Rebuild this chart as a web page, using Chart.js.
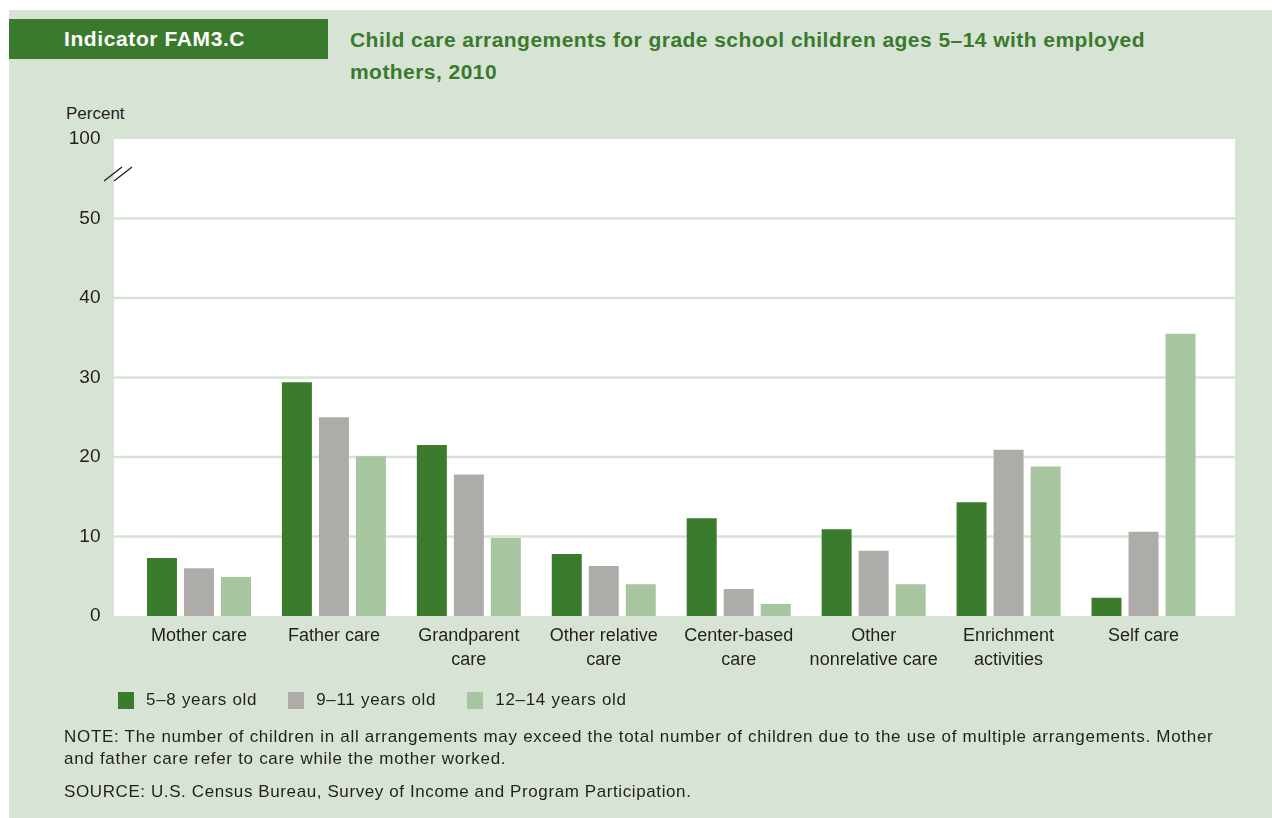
<!DOCTYPE html>
<html>
<head>
<meta charset="utf-8">
<script src="https://cdn.jsdelivr.net/npm/chart.js"></script>
<style>
  html, body { margin: 0; padding: 0; background: #fff; }
  body { width: 1272px; height: 818px; position: relative; overflow: hidden;
         font-family: "Liberation Sans", Arial, sans-serif; color: #231f20; }
  #bg { position: absolute; left: 9px; top: 10px; width: 1263px; height: 808px; background: #d7e4d5; }
  #badge { position: absolute; left: 9px; top: 19px; width: 319px; height: 40px; background: #3a7a2d;
           color: #fff; font-weight: bold; font-size: 21px; letter-spacing: 0.6px; line-height: 40px;
           box-sizing: border-box; padding-left: 55px; }
  #title { position: absolute; left: 350px; top: 24px; color: #3a7a2d; font-weight: bold; font-size: 21px;
           letter-spacing: 0.45px; line-height: 32px; }
  #unit { position: absolute; left: 66px; top: 104px; font-size: 17px; }
  #chartWrap { position: absolute; left: 0; top: 0; width: 1272px; height: 818px; }
  #legend { position: absolute; left: 118px; top: 690px; display: flex; font-size: 17px; letter-spacing: 0.7px; line-height: 20px; }
  #legend .item { display: flex; align-items: center; margin-right: 31px; }
  #legend .sw { width: 16px; height: 17px; margin-right: 12px; }
  #note { position: absolute; left: 64px; top: 726px; font-size: 17px; letter-spacing: 0.7px; line-height: 22px; }
  #source { position: absolute; left: 64px; top: 781px; font-size: 17px; letter-spacing: 0.6px; line-height: 22px; }
</style>
</head>
<body>
<div id="bg"></div>
<div id="badge">Indicator FAM3.C</div>
<div id="title">Child care arrangements for grade school children ages 5–14 with employed<br>mothers, 2010</div>
<div id="unit">Percent</div>
<div id="chartWrap"><canvas id="myChart" width="1272" height="818"></canvas></div>
<div id="legend"></div>
<div id="note">NOTE: The number of children in all arrangements may exceed the total number of children due to the use of multiple arrangements. Mother<br>and father care refer to care while the mother worked.</div>
<div id="source">SOURCE: U.S. Census Bureau, Survey of Income and Program Participation.</div>
<script>
var categories = [
  ["Mother care"], ["Father care"], ["Grandparent", "care"], ["Other relative", "care"],
  ["Center-based", "care"], ["Other", "nonrelative care"], ["Enrichment", "activities"], ["Self care"]
];
var seriesNames = ["5–8 years old", "9–11 years old", "12–14 years old"];
var age5to8 = [7.3, 29.4, 21.5, 7.8, 12.3, 10.9, 14.3, 2.3];
var age9to11 = [6.0, 25.0, 17.8, 6.3, 3.4, 8.2, 20.9, 10.6];
var age12to14 = [4.9, 20.1, 9.8, 4.0, 1.5, 4.0, 18.8, 35.5];
var yTicks = [0, 10, 20, 30, 40, 50, 60];
var yTickLabels = ["0", "10", "20", "30", "40", "50", "100"];

var colors = ["#3a7b2e", "#adaca8", "#a7c59f"];
var bgGreen = "#d7e4d5";
var textColor = "#231f20";
var fontFamily = '"Liberation Sans", Arial, sans-serif';

// white plot panel reaches a bit past the category band on both sides
var panelLeftExtra = 17.5, panelRightExtra = 24;

var plotPanel = {
  id: "plotPanel",
  beforeDatasetsDraw: function(chart) {
    var ctx = chart.ctx, a = chart.chartArea, y = chart.scales.y;
    var left = a.left - panelLeftExtra, right = a.right + panelRightExtra;
    ctx.save();
    ctx.fillStyle = "#fff";
    ctx.fillRect(left, a.top, right - left, a.bottom - a.top);
    ctx.strokeStyle = bgGreen;
    ctx.lineWidth = 2.5;
    for (var i = 1; i < yTicks.length - 1; i++) {
      var py = y.getPixelForValue(yTicks[i]);
      ctx.beginPath();
      ctx.moveTo(left, py);
      ctx.lineTo(right, py);
      ctx.stroke();
    }
    ctx.restore();
  },
  afterDraw: function(chart) {
    // axis break marks between 50 and 100
    var ctx = chart.ctx, a = chart.chartArea, y = chart.scales.y;
    var cy = y.getPixelForValue(55.6);
    var x0 = a.left - panelLeftExtra;
    ctx.save();
    ctx.strokeStyle = textColor;
    ctx.lineWidth = 1.3;
    [[-10, 8], [0, 18]].forEach(function(s) {
      ctx.beginPath();
      ctx.moveTo(x0 + s[0], cy + 7);
      ctx.lineTo(x0 + s[1], cy - 7);
      ctx.stroke();
    });
    ctx.restore();
  }
};

var ctx = document.getElementById("myChart").getContext("2d");
var chart = new Chart(ctx, {
  type: "bar",
  data: {
    labels: categories,
    datasets: [
      { label: seriesNames[0], data: age5to8, backgroundColor: colors[0] },
      { label: seriesNames[1], data: age9to11, backgroundColor: colors[1] },
      { label: seriesNames[2], data: age12to14, backgroundColor: colors[2] }
    ]
  },
  options: {
    responsive: false,
    animation: false,
    layout: { padding: { left: 0, top: 139, right: 61, bottom: 142 } },
    datasets: { bar: { categoryPercentage: 0.823, barPercentage: 0.81, borderWidth: 0 } },
    plugins: { legend: { display: false }, tooltip: { enabled: false } },
    scales: {
      x: {
        offset: true,
        grid: { display: false, drawTicks: false },
        border: { display: false },
        ticks: { color: textColor, font: { family: fontFamily, size: 18, lineHeight: 1.28 }, padding: 9, maxRotation: 0, autoSkip: false },
        afterFit: function(s) { s.height = 60; }
      },
      y: {
        min: 0, max: 60,
        grid: { display: false, drawTicks: false },
        border: { display: false },
        afterBuildTicks: function(s) { s.ticks = yTicks.map(function(v) { return { value: v }; }); },
        ticks: {
          color: textColor, font: { family: fontFamily, size: 19 }, padding: 31,
          callback: function(v) { return yTickLabels[yTicks.indexOf(v)]; }
        },
        afterFit: function(s) { s.width = 131.5; }
      }
    }
  },
  plugins: [plotPanel]
});

var legend = document.getElementById("legend");
seriesNames.forEach(function(name, i) {
  var item = document.createElement("div");
  item.className = "item";
  item.innerHTML = '<div class="sw" style="background:' + colors[i] + '"></div><span>' + name + '</span>';
  legend.appendChild(item);
});
</script>
</body>
</html>
